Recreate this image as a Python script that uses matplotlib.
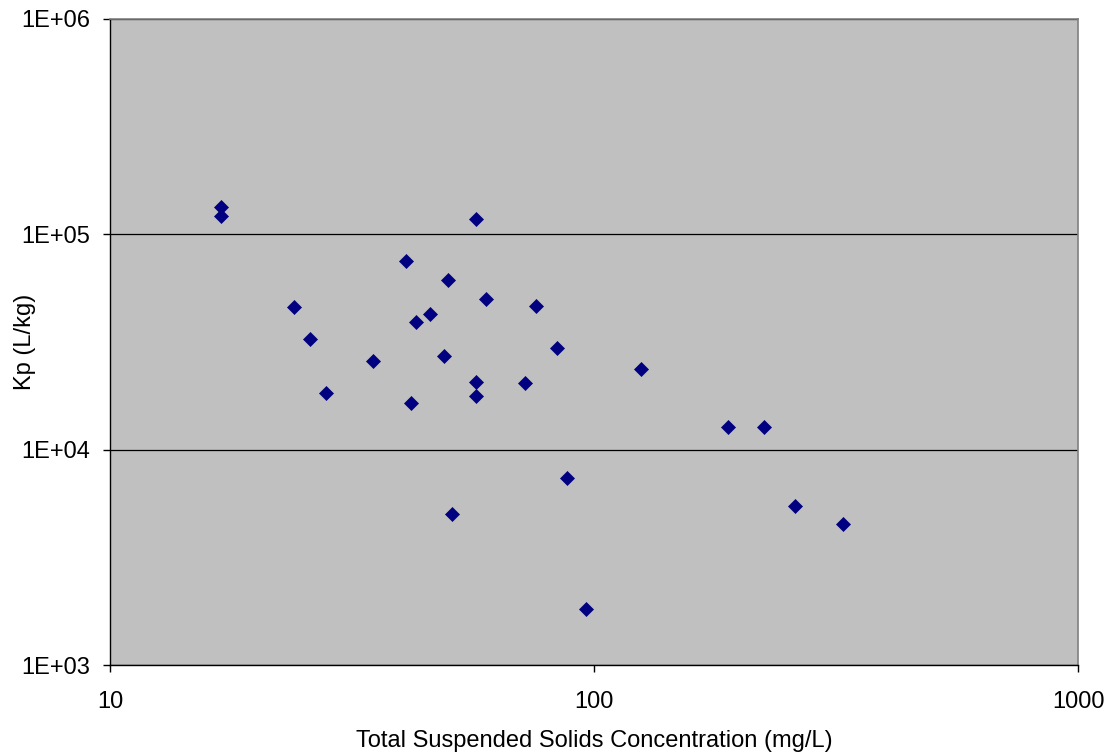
import matplotlib.pyplot as plt
from matplotlib.ticker import FixedLocator, NullLocator

plt.rcParams["font.family"] = ["Liberation Sans", "DejaVu Sans"]

# total suspended solids (mg/L) and partition coefficient Kp (L/kg)
tss = [
    16.96, 16.96, 23.96, 25.9, 28.0, 34.9, 40.95, 42.9, 41.9, 45.9,
    49.9, 49.0, 50.9, 57.0, 59.9, 57.0, 57.0, 72.0, 76.0, 84.0,
    87.9, 96.3, 125.0, 189.0, 224.6, 260.0, 327.0,
]
kp = [
    134000, 121000, 46100, 32800, 18300, 25900, 75500, 39300, 16500, 42500,
    61600, 27100, 5040, 117500, 50000, 20700, 17800, 20400, 46600, 29500,
    7410, 1820, 23600, 12800, 12800, 5490, 4530,
]

x_ticks = [10, 100, 1000]
x_tick_labels = ["10", "100", "1000"]
y_ticks = [1e3, 1e4, 1e5, 1e6]
y_tick_labels = ["1E+03", "1E+04", "1E+05", "1E+06"]

FS = 17

fig = plt.figure(figsize=(11.13, 7.54), dpi=100)
ax = fig.add_axes([0.0988, 0.118, 0.870, 0.857])
ax.set_facecolor("#C0C0C0")

ax.set_xscale("log")
ax.set_yscale("log")
ax.set_xlim(10, 1000)
ax.set_ylim(1e3, 1e6)

ax.plot(tss, kp, linestyle="none", marker="D", markersize=7.4,
        markerfacecolor="#000080", markeredgecolor="#000080",
        markeredgewidth=0.5, zorder=3)

ax.xaxis.set_major_locator(FixedLocator(x_ticks))
ax.xaxis.set_minor_locator(NullLocator())
ax.set_xticklabels(x_tick_labels)
ax.yaxis.set_major_locator(FixedLocator(y_ticks))
ax.yaxis.set_minor_locator(NullLocator())
ax.set_yticklabels(y_tick_labels)

ax.grid(True, axis="y", color="black", linewidth=0.9, zorder=1)
ax.set_axisbelow(True)

ax.tick_params(axis="both", direction="out", length=5, width=1,
               labelsize=FS, color="black")
ax.tick_params(axis="x", pad=14)
ax.tick_params(axis="y", pad=9)

for side in ("top", "right"):
    ax.spines[side].set_color("#808080")
    ax.spines[side].set_linewidth(1.2)
for side in ("left", "bottom"):
    ax.spines[side].set_color("black")
    ax.spines[side].set_linewidth(1.0)

ax.set_xlabel("Total Suspended Solids Concentration (mg/L)", fontsize=FS, labelpad=12)
ax.set_ylabel("Kp (L/kg)", fontsize=FS)
ax.yaxis.set_label_coords(-0.0764, 0.5)

fig.savefig("out.png", dpi=100)
